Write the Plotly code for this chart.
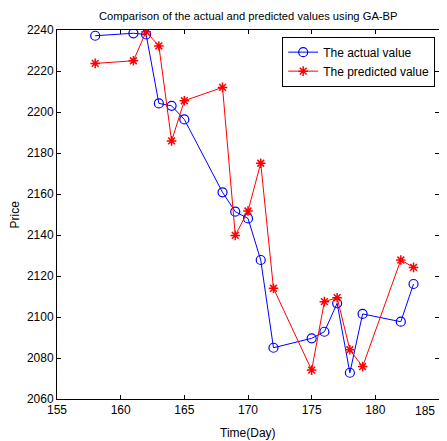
import plotly.graph_objects as go

days = [158, 161, 162, 163, 164, 165, 168, 169, 170, 171, 172, 175, 176, 177, 178, 179, 182, 183]
actual = [2237.2, 2238.4, 2237.8, 2204.2, 2203.0, 2196.4, 2160.8, 2151.4, 2148.1, 2127.8,
          2085.0, 2089.6, 2092.8, 2106.7, 2072.8, 2101.5, 2097.7, 2116.1]
predicted = [2223.7, 2225.0, 2239.2, 2232.2, 2185.9, 2205.5, 2212.0, 2139.8, 2151.7, 2175.0,
             2114.0, 2074.1, 2107.5, 2109.4, 2084.0, 2075.8, 2127.8, 2124.2]
x_ticks = [155, 160, 165, 170, 175, 180, 185]
x_labels = ["155", "160", "165", "170", "175", "180", ""]
y_ticks = [2060, 2080, 2100, 2120, 2140, 2160, 2180, 2200, 2220, 2240]

FONT = "Liberation Sans, Arial"

fig = go.Figure()
fig.add_trace(go.Scatter(
    x=days, y=actual, mode="lines+markers", name="The actual value",
    line=dict(color="#0000ff", width=1),
    marker=dict(symbol="circle-open", size=9, color="#0000ff", line=dict(width=1.2)),
))
fig.add_trace(go.Scatter(
    x=days, y=predicted, mode="lines+markers", name="The predicted value",
    line=dict(color="#ff0000", width=1),
    marker=dict(symbol="asterisk-open", size=8, color="#ff0000", line=dict(width=1.5, color="#ff0000")),
))

axis_common = dict(
    showgrid=False, zeroline=False, showline=True, linecolor="black", linewidth=1,
    mirror="ticks", ticks="inside", ticklen=4, tickcolor="black", automargin=False,
    tickfont=dict(family=FONT, size=12, color="black"),
)
fig.update_xaxes(range=[155, 185], tickvals=x_ticks, ticktext=x_labels, **axis_common)
fig.update_yaxes(range=[2060, 2240], tickvals=y_ticks, **axis_common)

annotations = [
    dict(text="185", x=185, y=0, xref="x", yref="paper", xanchor="right", yanchor="top",
         xshift=-2, yshift=-3, showarrow=False, font=dict(family=FONT, size=12, color="black")),
    dict(text="Time(Day)", x=0.5, y=0, xref="paper", yref="paper", xanchor="center", yanchor="top",
         yshift=-25, showarrow=False, font=dict(family=FONT, size=12, color="black")),
    dict(text="Price", x=0, y=0.5, xref="paper", yref="paper", xanchor="right", yanchor="middle",
         xshift=-34, textangle=-90, showarrow=False, font=dict(family=FONT, size=12, color="black")),
    dict(text="Comparison of the actual and predicted values using GA-BP", x=0.5, y=1,
         xref="paper", yref="paper", xanchor="center", yanchor="bottom", yshift=6,
         showarrow=False, font=dict(family=FONT, size=11.2, color="black")),
]

fig.update_layout(
    width=439, height=433,
    margin=dict(l=49, r=8, t=22, b=42),
    paper_bgcolor="white", plot_bgcolor="white",
    legend=dict(x=0.99, y=0.982, xanchor="right", yanchor="top",
                bordercolor="black", borderwidth=1, bgcolor="white",
                font=dict(family=FONT, size=12, color="black"),
                tracegroupgap=0, itemwidth=30),
    annotations=annotations,
    showlegend=True,
)

fig.write_html("out.html")
